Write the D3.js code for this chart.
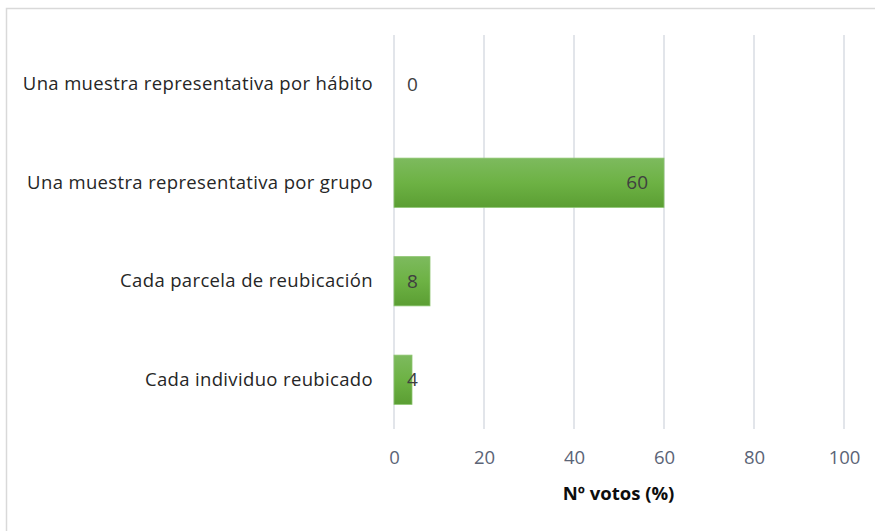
<!DOCTYPE html>
<html>
<head>
<meta charset="utf-8">
<script src="https://cdn.jsdelivr.net/npm/d3@7"></script>
<style>
body { margin: 0; background: #fff; }
text { font-family: "Open Sans", "Noto Sans", sans-serif; }
</style>
</head>
<body>
<svg id="svg"></svg>
<script>
var width = 875, height = 531;

var categories = ["Una muestra representativa por hábito", "Una muestra representativa por grupo", "Cada parcela de reubicación", "Cada individuo reubicado"];
var values = [0, 60, 8, 4];
var ticks = [0, 20, 40, 60, 80, 100];

var svg = d3.select("#svg")
	.attr("width", width)
	.attr("height", height);

// chart border
svg.append("rect")
	.attr("x", 6.5)
	.attr("y", 8.5)
	.attr("width", 880)
	.attr("height", 540)
	.attr("fill", "none")
	.attr("stroke", "#d9d9d9")
	.attr("stroke-width", 1.5);

var defs = svg.append("defs");
var grad = defs.append("linearGradient")
	.attr("id", "barGrad")
	.attr("x1", 0).attr("y1", 0).attr("x2", 0).attr("y2", 1);
grad.append("stop").attr("offset", "0%").attr("stop-color", "#7dba5e");
grad.append("stop").attr("offset", "50%").attr("stop-color", "#6db244");
grad.append("stop").attr("offset", "100%").attr("stop-color", "#5b9e33");

var x = d3.scaleLinear()
	.domain([0, 100])
	.range([394, 844]);
var y = d3.scaleBand()
	.domain(categories)
	.range([35, 429])
	.paddingInner(0.5)
	.paddingOuter(0.25);

// gridlines
svg.append("g")
	.selectAll("line")
	.data(ticks)
	.enter()
	.append("line")
	.attr("x1", function(d) { return x(d); })
	.attr("x2", function(d) { return x(d); })
	.attr("y1", 35)
	.attr("y2", 429)
	.attr("stroke", "#d9dde3")
	.attr("stroke-width", 1.5);

var bar = svg.selectAll("g.bar")
	.data(categories)
	.enter()
	.append("g")
	.attr("class", "bar");
bar.append("rect")
	.attr("x", x(0))
	.attr("y", function(d) { return y(d); })
	.attr("width", function(d, i) { return x(values[i]) - x(0); })
	.attr("height", y.bandwidth())
	.attr("fill", "url(#barGrad)")
	.attr("stroke", function(d, i) { return values[i] > 0 ? "#8cc46e" : "none"; })
	.attr("stroke-width", 0.8);

bar.append("text")
	.attr("x", function(d, i) { return values[i] > 20 ? x(values[i]) - 16 : x(0) + 13; })
	.attr("y", function(d) { return y(d) + y.bandwidth() / 2; })
	.attr("dy", "0.35em")
	.attr("text-anchor", function(d, i) { return values[i] > 20 ? "end" : "start"; })
	.attr("fill", "#404040")
	.style("font-size", "19px")
	.text(function(d, i) { return values[i]; });

// category labels
var yAxis = d3.axisLeft(y).tickSize(0).tickPadding(0);
svg.append("g")
	.attr("transform", "translate(373,0)")
	.call(yAxis)
	.call(function(g) { g.select(".domain").remove(); })
	.selectAll("text")
	.attr("fill", "#262626")
	.style("font-size", "18.5px")
	.style("letter-spacing", "0.35px");

// x axis labels
var xAxis = d3.axisBottom(x).tickValues(ticks).tickSize(0).tickPadding(0);
svg.append("g")
	.attr("transform", "translate(0,451)")
	.call(xAxis)
	.call(function(g) { g.select(".domain").remove(); })
	.selectAll("text")
	.attr("fill", "#5b6476")
	.style("font-size", "18.5px");

svg.append("text")
	.attr("x", 618.5)
	.attr("y", 500)
	.attr("text-anchor", "middle")
	.attr("fill", "#0d0d0d")
	.style("font-size", "18.5px")
	.style("font-weight", "bold")
	.text("Nº votos (%)");
</script>
</body>
</html>
